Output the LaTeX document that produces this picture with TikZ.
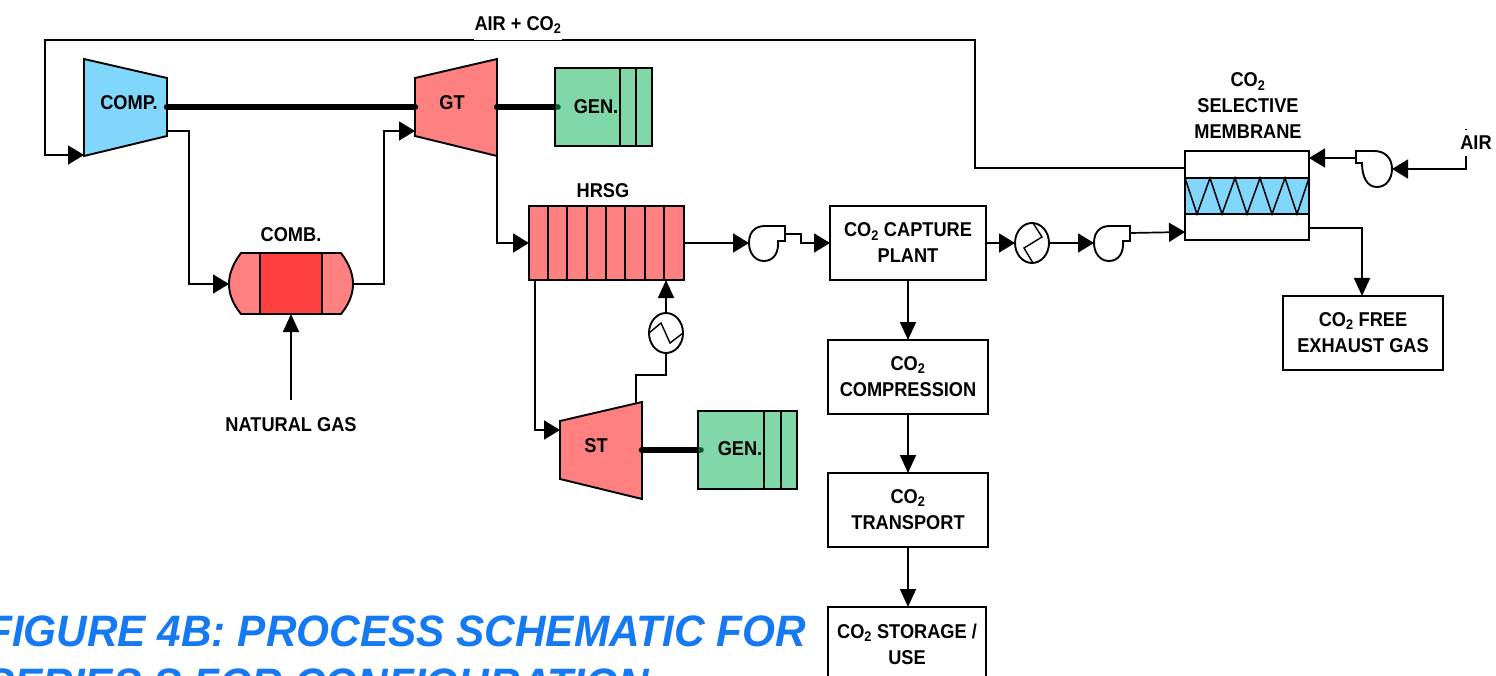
\documentclass[tikz,border=0pt]{standalone}
\usepackage{fontspec}
\setmainfont[FakeStretch=0.91]{Liberation Sans}
\newfontfamily\titlefont[FakeStretch=0.962]{Liberation Sans}
\usetikzlibrary{arrows.meta,shapes.geometric}
\definecolor{coldblue}{HTML}{80D6FB}
\definecolor{hotred}{HTML}{FF8080}
\definecolor{corered}{HTML}{FF4040}
\definecolor{gengreen}{HTML}{80D8A8}
\definecolor{titleblue}{HTML}{1479F2}
\definecolor{dotgreen}{HTML}{0B5A2E}
\newcommand{\cotwo}{CO\textsubscript{2}}
\tikzset{
  x=1pt,y=-1pt,
  equip/.style={draw=black,line width=1.9pt,line join=miter},
  flow/.style={draw=black,line width=1.7pt,line join=miter,-{Triangle[length=16pt,width=19pt]}},
  vflow/.style={draw=black,line width=1.7pt,line join=miter,-{Triangle[length=18pt,width=16pt]}},
  plainflow/.style={draw=black,line width=1.7pt,line join=miter},
  shaft/.style={draw=black,line width=6.5pt,line cap=round},
  procbox/.style={draw=black,line width=1.9pt,fill=white,inner sep=0pt,outer sep=0pt,align=center,font=\bfseries\fontsize{20}{26}\selectfont},
  lab/.style={inner sep=0pt,outer sep=0pt,align=center,font=\bfseries\fontsize{20}{26}\selectfont},
  rowbox/.style={draw=black,line width=1.9pt,inner sep=0pt,outer sep=0pt},
  exch/.style={ellipse,draw=black,line width=1.9pt,fill=white,inner sep=0pt,outer sep=0pt,minimum width=34pt,minimum height=40pt},
  blowerbody/.style={draw=black,line width=1.9pt,fill=white,line join=miter},
  titletext/.style={anchor=base west,inner sep=0pt,text=titleblue,font=\titlefont\bfseries\itshape\fontsize{44}{44}\selectfont}
}
\begin{document}
\begin{tikzpicture}
\useasboundingbox (0,0) rectangle (1496,676);
\clip (0,0) rectangle (1496,676);
\fill[white] (0,0) rectangle (1496,676);

% ports
\coordinate (compIn) at (84,155);
\coordinate (compOut) at (167,131);
\coordinate (compShaft) at (167,107);
\coordinate (gtShaft) at (415,107);
\coordinate (gtIn) at (415,131);
\coordinate (gtShaftOut) at (497,107);
\coordinate (gtOut) at (497,156);
\coordinate (stIn) at (560,430);
\coordinate (stShaft) at (642,450);
\coordinate (stOut) at (636,403);
\coordinate (airEnd) at (1466,129);

% equipment
\draw[equip,fill=coldblue] (84,59) -- (167,78) -- (167,136) -- (84,156) -- cycle;
\draw[equip,fill=hotred] (415,78) -- (497,59) -- (497,156) -- (415,136) -- cycle;
\draw[equip,fill=hotred] (560,421) -- (642,402) -- (642,499) -- (560,479) -- cycle;

\node[rowbox,fill=gengreen,minimum width=97pt,minimum height=78pt] (gen1) at (603.5,107) {};
\draw[equip] (620,68) -- (620,146) (636,68) -- (636,146);
\node[rowbox,fill=gengreen,minimum width=99pt,minimum height=78pt] (gen2) at (747.5,450) {};
\draw[equip] (764,411) -- (764,489) (781,411) -- (781,489);

\draw[equip,fill=hotred] (241,253) .. controls (232,265) and (229,275) .. (229,284)
  .. controls (229,293) and (232,303) .. (241,314) -- (341,314)
  .. controls (350,303) and (353,293) .. (353,284)
  .. controls (353,275) and (350,265) .. (341,253) -- cycle;
\node[rowbox,fill=corered,minimum width=62pt,minimum height=61pt] (comb) at (291,283.5) {};
\coordinate (combW) at (229,284);
\coordinate (combE) at (353,284);
\coordinate (combS) at (291,314);

\node[rowbox,fill=hotred,minimum width=155pt,minimum height=74pt] (hrsg) at (606.5,243) {};
\draw[equip] (548,206) -- (548,280) (567,206) -- (567,280) (587,206) -- (587,280)
  (606,206) -- (606,280) (625,206) -- (625,280) (645,206) -- (645,280) (664,206) -- (664,280);

% membrane
\node[rowbox,fill=white,minimum width=124pt,minimum height=89pt] (memb) at (1247,195.5) {};
\draw[equip,fill=coldblue] (1185,178) rectangle (1309,214);
\draw[black,line width=1.5pt,line join=miter] (1185,178) -- (1197,214) -- (1210,178) -- (1222,214) -- (1235,178)
  -- (1247,214) -- (1260,178) -- (1272,214) -- (1285,178) -- (1297,214) -- (1309,178);

% process boxes
\node[procbox,minimum width=156pt,minimum height=74pt] (capture) at (908,243) {\cotwo{} CAPTURE\\PLANT};
\node[procbox,minimum width=160pt,minimum height=74pt] (compr) at (908,377) {\cotwo\\COMPRESSION};
\node[procbox,minimum width=160pt,minimum height=74pt] (transp) at (908,510) {\cotwo\\TRANSPORT};
\node[procbox,minimum width=158pt,minimum height=74pt] (store) at (907,644) {\cotwo{} STORAGE /\\USE};
\node[procbox,minimum width=160pt,minimum height=74pt] (free) at (1363,333) {\cotwo{} FREE\\EXHAUST GAS};

% exchangers
\node[exch] (hxa) at (1032,243) {};
\draw[black,line width=1.4pt] (1033,223) -- (1042,237) -- (1024,248) -- (1033,263);
\node[exch] (hxb) at (666,333) {};
\draw[black,line width=1.4pt] (649,333) -- (661,323) -- (670,343) -- (683,333);

% blowers
\draw[blowerbody] (749,243) .. controls (749,232) and (755,226) .. (765,226) -- (785,226) -- (785,241) -- (778,241)
  .. controls (779,252) and (774,261) .. (764,261) .. controls (755,261) and (749,253) .. (749,243) -- cycle;
\coordinate (bl1In) at (749,243);
\coordinate (bl1Out) at (785,234);
\draw[blowerbody] (1094,243) .. controls (1094,232) and (1100,226) .. (1110,226) -- (1130,226) -- (1130,241) -- (1123,241)
  .. controls (1124,252) and (1119,261) .. (1109,261) .. controls (1100,261) and (1094,253) .. (1094,243) -- cycle;
\coordinate (bl2In) at (1094,243);
\coordinate (bl2Out) at (1130,233);
\draw[blowerbody] (1392,169) .. controls (1392,158) and (1385,151) .. (1374,151) -- (1356,151) -- (1356,163) -- (1362,163)
  .. controls (1362,177) and (1367,187) .. (1377,187) .. controls (1386,187) and (1392,179) .. (1392,169) -- cycle;
\coordinate (bl3In) at (1392,169);
\coordinate (bl3Out) at (1356,158);

% connectors
\draw[flow] (memb.west |- 0,168) -- (975,168) -- (975,40) -- (45,40) -- (45,155) -- (compIn);
\draw[flow] (compOut) -- (189,131) -- (189,284) -- (combW);
\draw[flow] (combE) -- (384,284) -- (384,131) -- (gtIn);
\draw[flow] (gtOut) -- (497,243) -- (hrsg.west);
\draw[flow] (hrsg.east) -- (bl1In);
\draw[flow] (bl1Out) -- (801,234) -- (801,243) -- (capture.west);
\draw[flow] (capture.east) -- (hxa.west);
\draw[flow] (hxa.east) -- (bl2In);
\draw[flow] (bl2Out) -- (memb.west |- 0,232);
\draw[flow] (bl3Out) -- (memb.east |- 0,158);
\draw[plainflow] (airEnd) -- (1466,169) -- (1420,169);
\draw[flow] (1420,169) -- (bl3In);
\draw[vflow] (memb.east |- 0,228) -- (1362,228) -- (free.north -| 1362,0);
\draw[vflow] (capture.south) -- (compr.north);
\draw[vflow] (compr.south) -- (transp.north);
\draw[vflow] (transp.south) -- (store.north -| transp.south);
\draw[flow] (535,280) -- (535,430) -- (stIn);
\draw[plainflow] (stOut) -- (636,375) -- (666,375) -- (hxb.south);
\draw[vflow] (hxb.north) -- (hrsg.south -| 666,0);

% shafts
\draw[shaft] (compShaft) -- (gtShaft);
\draw[shaft] (gtShaftOut) -- (gen1.west);
\draw[shaft] (stShaft) -- (gen2.west);
\fill[dotgreen] (gen1.west) ++(3,0) circle (2.8pt);
\fill[dotgreen] (gen2.west) ++(3,0) circle (2.8pt);

% natural gas
\node[lab] (ng) at (291,424.5) {NATURAL GAS};
\coordinate (ngTop) at (291,400);
\draw[vflow] (ngTop) -- (combS);

% labels
\node[lab] (lcomp) at (129,103) {COMP.};
\node[lab] (lgt) at (452,103) {GT};
\node[lab] (lgena) at (596,107) {GEN.};
\node[lab] (lgenb) at (740,449) {GEN.};
\node[lab] (lst) at (596,446) {ST};
\node[lab] (lcomb) at (291,235) {COMB.};
\node[lab] (lhrsg) at (603,191) {HRSG};
\fill[white] (474,10) rectangle (562,39.7);
\node[lab] (lair) at (518,25) {AIR + \cotwo};
\node[lab] (lmemb) at (1248,106) {\cotwo\\SELECTIVE\\MEMBRANE};
\fill[white] (1458,130.5) rectangle (1492,156);
\node[lab] (lairin) at (1476,143) {AIR};

% title
\node[titletext] (title1) at (-14,646) {FIGURE 4B: PROCESS SCHEMATIC FOR};
\node[titletext] (title2) at (-14,699) {SERIES S FOR CONFIGURATION};
\end{tikzpicture}
\end{document}
